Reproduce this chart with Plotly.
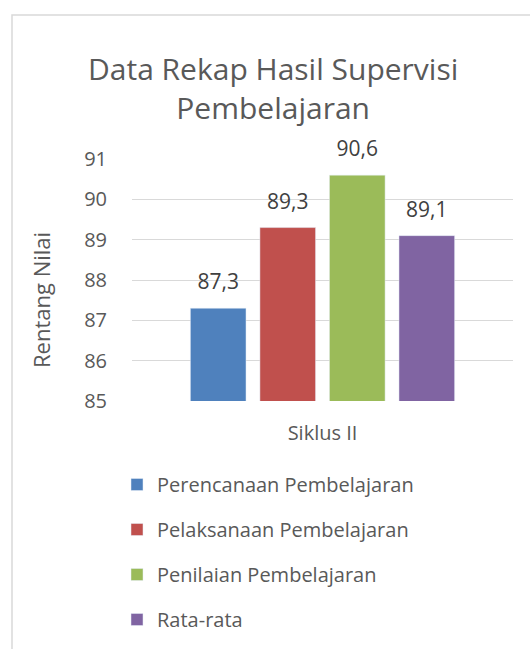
import plotly.graph_objects as go

categories = ["Siklus II"]
series_names = ["Perencanaan Pembelajaran", "Pelaksanaan Pembelajaran",
                "Penilaian Pembelajaran", "Rata-rata"]
series_values = [[87.3], [89.3], [90.6], [89.1]]
series_colors = ["#4F81BD", "#C0504D", "#9BBB59", "#8064A2"]
y_ticks = [85, 86, 87, 88, 89, 90, 91]

FONT = "Open Sans"
TXT = "#595959"

fig = go.Figure()
for i, (name, vals, col) in enumerate(zip(series_names, series_values, series_colors)):
    fig.add_trace(go.Bar(
        x=categories, y=vals, name=name, marker_color=col,
        offsetgroup=str(i), legendgroup=str(i), hoverinfo="skip",
    ))
for i, (name, vals, col) in enumerate(zip(series_names, series_values, series_colors)):
    fig.add_trace(go.Scatter(
        x=categories, y=vals, mode="markers+text",
        text=[f"{v:.1f}".replace(".", ",") for v in vals],
        textposition="top center",
        textfont=dict(family=FONT, size=21, color="#404040"),
        marker=dict(size=20, opacity=0),
        offsetgroup=str(i), alignmentgroup="lbl", orientation="v",
        showlegend=False, hoverinfo="skip", cliponaxis=False,
    ))

fig.update_layout(
    width=530, height=649,
    margin=dict(l=132, r=17, t=159, b=248, autoexpand=False),
    paper_bgcolor="white", plot_bgcolor="white",
    barmode="group", bargap=0.27, bargroupgap=0.2,
    scattermode="group", scattergap=0.27,
    font=dict(family=FONT, color=TXT),
    showlegend=True,
    legend=dict(
        orientation="v", xref="container", yref="container",
        x=117 / 530, xanchor="left",
        y=1 - 465 / 649, yanchor="top",
        font=dict(family=FONT, size=20, color=TXT),
        tracegroupgap=16, itemclick=False,
    ),
    xaxis=dict(
        range=[-0.5, 0.5], showgrid=False, showline=False, ticks="",
        tickfont=dict(family=FONT, size=20, color=TXT),
        ticklabelstandoff=18, zeroline=False,
    ),
    yaxis=dict(
        range=[85, 91], tickvals=y_ticks, showgrid=True, gridcolor="#D9D9D9",
        gridwidth=1, showline=False, ticks="", zeroline=False,
        tickfont=dict(family=FONT, size=20, color=TXT),
        ticklabelstandoff=24,
    ),
    annotations=[
        dict(text="Data Rekap Hasil Supervisi<br>Pembelajaran",
             xref="paper", yref="paper", x=(273 - 132) / 381, y=(401 - 46) / 242,
             xanchor="center", yanchor="top", showarrow=False,
             font=dict(family=FONT, size=30, color=TXT)),
        dict(text="Rentang Nilai", textangle=-90,
             xref="paper", yref="paper", x=(41 - 132) / 381, y=(401 - 300) / 242,
             xanchor="center", yanchor="middle", showarrow=False,
             font=dict(family=FONT, size=22, color=TXT)),
    ],
    shapes=[
        dict(type="rect", xref="paper", yref="paper",
             x0=(12 - 132) / 381, x1=(560 - 132) / 381,
             y0=(401 - 700) / 242, y1=(401 - 15) / 242,
             line=dict(color="#D9D9D9", width=1.5), fillcolor="rgba(0,0,0,0)",
             layer="below"),
    ],
)

fig.write_html("out.html", config={"displayModeBar": False},
               post_script="document.body.style.margin='0';")
